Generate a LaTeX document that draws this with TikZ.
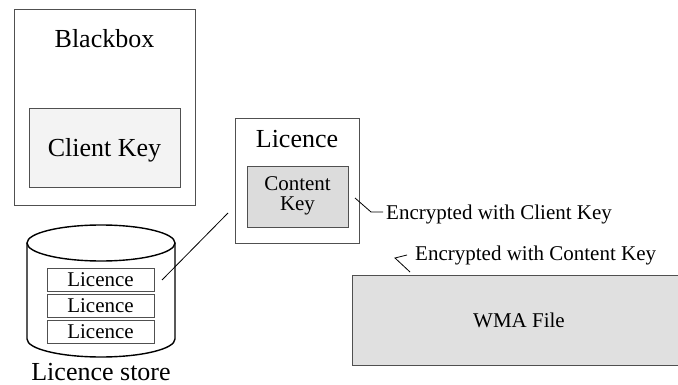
\documentclass[tikz,border=0pt]{standalone}
\usepackage{fontspec}
\setmainfont{Liberation Serif}
\definecolor{edge}{HTML}{505050}
\definecolor{ckfill}{HTML}{F3F3F3}
\definecolor{cofill}{HTML}{DCDCDC}
\definecolor{wmafill}{HTML}{E0E0E0}
\tikzset{
  boxshape/.style={draw=edge, line width=1pt, rectangle, inner sep=0pt},
  bigtxt/.style={inner sep=0pt, anchor=base, font=\fontsize{26}{30}\selectfont},
  smalltxt/.style={inner sep=0pt, anchor=base, font=\fontsize{21}{24}\selectfont},
  leader/.style={draw=black, line width=0.8pt},
  cyl/.style={draw=black, line width=1.4pt}
}
\begin{document}
\begin{tikzpicture}[x=1pt, y=-1pt]
\useasboundingbox (0,0) rectangle (678,385);
% Blackbox
\node[boxshape, minimum width=181pt, minimum height=196pt] (bb) at (104.5,107.5) {};
\node[bigtxt] (bbtxt) at (104.5,48) {Blackbox};
\node[boxshape, fill=ckfill, minimum width=151pt, minimum height=79pt] (ck) at (104.5,148.5) {};
\node[bigtxt] (cktxt) at (104.5,157) {Client Key};
% Licence
\node[boxshape, minimum width=124pt, minimum height=124pt] (lic) at (297,181) {};
\node[bigtxt] (lictxt) at (297,148) {Licence};
\node[boxshape, fill=cofill, minimum width=101pt, minimum height=61pt] (co) at (297.5,197.5) {};
\node[smalltxt] (cotxt1) at (297.5,190.5) {Content};
\node[smalltxt] (cotxt2) at (297.5,210.5) {Key};
% Cylinder (licence store)
\fill[white] (27,243) -- (27,339) arc[start angle=180, end angle=360, x radius=74pt, y radius=18pt] -- (175,243) -- cycle;
\draw[cyl] (27,243) -- (27,339) arc[start angle=180, end angle=360, x radius=74pt, y radius=18pt] -- (175,243);
\draw[cyl] (101,243) ellipse [x radius=74pt, y radius=18pt];
\node[boxshape, fill=white, minimum width=107pt, minimum height=23pt] (l1) at (100.5,279.5) {};
\node[smalltxt] (l1t) at (100.5,286.5) {Licence};
\node[boxshape, fill=white, minimum width=107pt, minimum height=23pt] (l2) at (100.5,305.5) {};
\node[smalltxt] (l2t) at (100.5,312.5) {Licence};
\node[boxshape, fill=white, minimum width=107pt, minimum height=23pt] (l3) at (100.5,331.5) {};
\node[smalltxt] (l3t) at (100.5,338.5) {Licence};
\node[bigtxt] (storetxt) at (101,380) {Licence store};
% connector store -> licence
\coordinate (sA) at (162,280);
\coordinate (sB) at (228,213);
\draw[leader] (sA) -- (sB);
% WMA file
\node[boxshape, fill=wmafill, minimum width=334pt, minimum height=90pt, anchor=north west] (wma) at (352,275) {};
\node[smalltxt] (wmatxt) at (519,327) {WMA File};
% callouts
\node[smalltxt, anchor=base west] (enc1) at (386,219) {Encrypted with Client Key};
\coordinate (c1a) at (355,198);
\coordinate (c1b) at (371,212);
\coordinate (c1c) at (383,212);
\draw[leader] (c1a) -- (c1b) -- (c1c);
\node[smalltxt, anchor=base west] (enc2) at (415,260) {Encrypted with Content Key};
\coordinate (c2a) at (407,255);
\coordinate (c2b) at (395,258);
\coordinate (c2c) at (410,272);
\draw[leader] (c2a) -- (c2b) -- (c2c);
\end{tikzpicture}
\end{document}
